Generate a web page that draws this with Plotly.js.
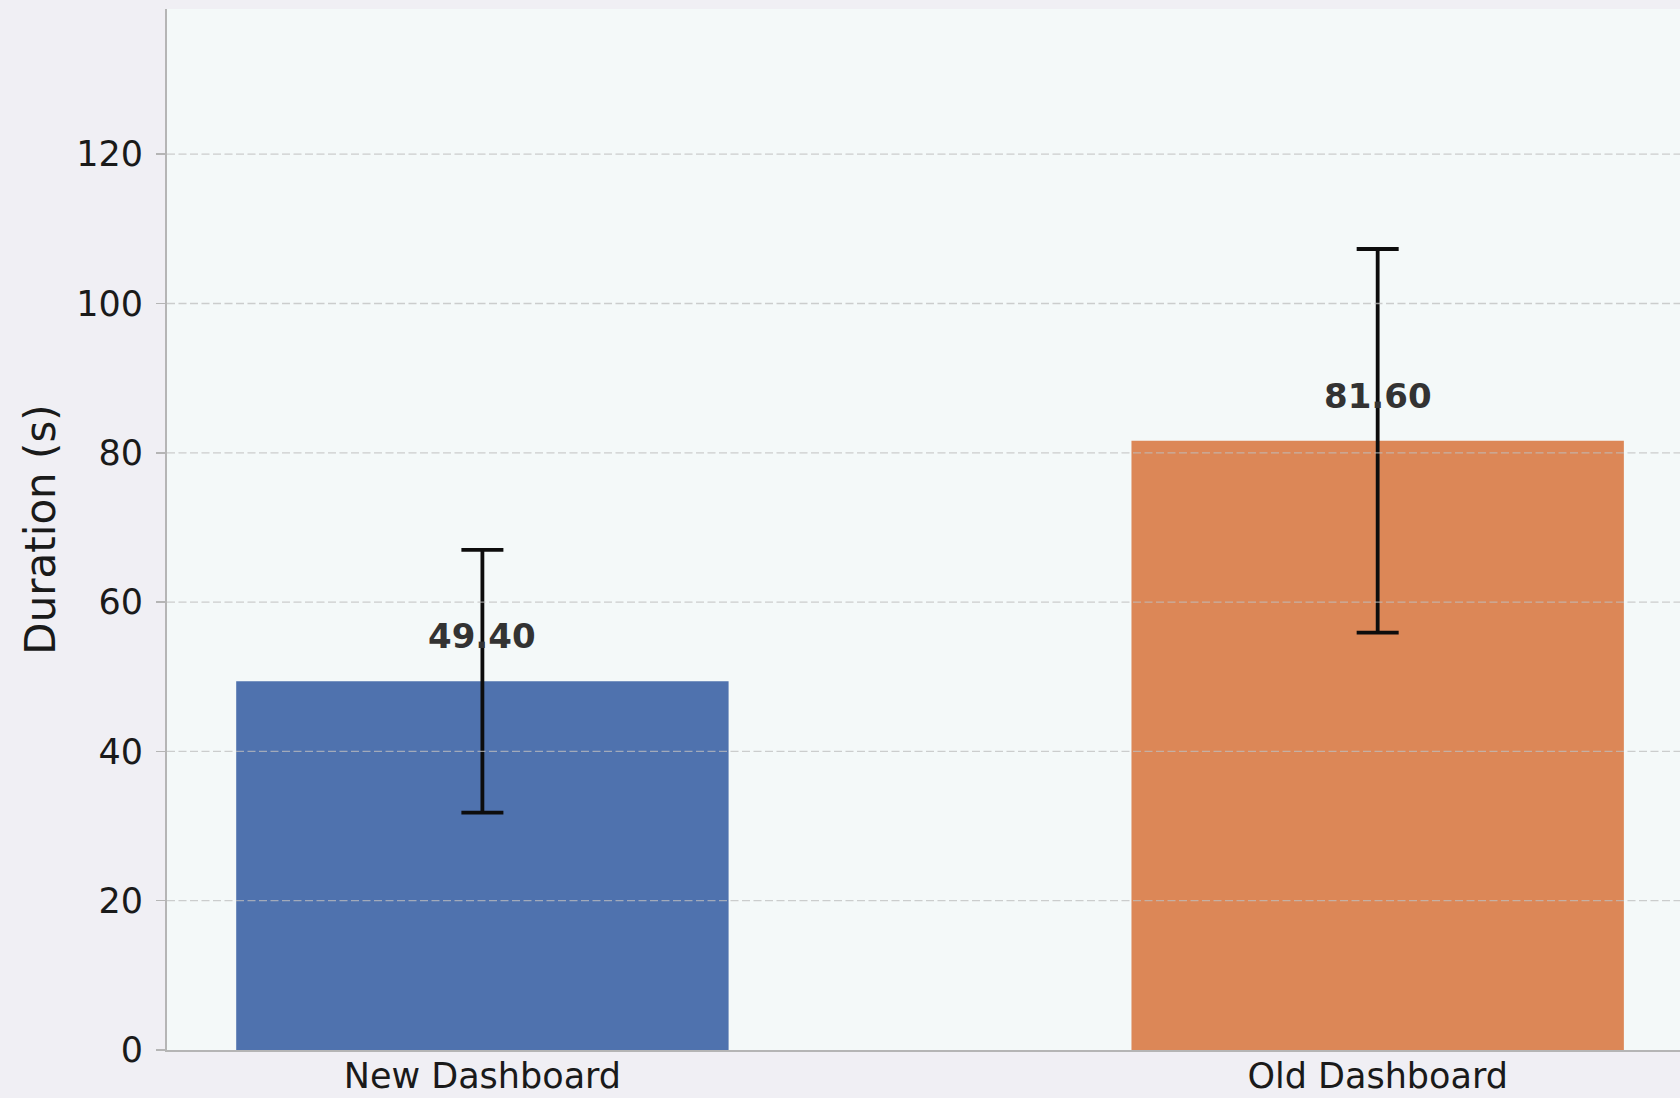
<!DOCTYPE html>
<html>
<head>
<meta charset="utf-8">
<script src="https://cdn.plot.ly/plotly-3.0.1.min.js"></script>
<style>html,body{margin:0;padding:0;background:#f0eff4;}#chart{width:1680px;height:1098px;}</style>
</head>
<body>
<div id="chart"></div>
<script>
// Data
const categories = ["New Dashboard", "Old Dashboard"];
const meanDuration = [49.4, 81.6];
const errDuration = [17.6, 25.7];
const labels = ["49.40", "81.60"];
const barColors = ["#4F72AE", "#DC8757"];
const yTicks = [0, 20, 40, 60, 80, 100, 120];

const xIdx = categories.map((c, i) => i);

const trace = {
  type: "bar",
  x: xIdx,
  y: meanDuration,
  width: 0.55,
  marker: {color: barColors, line: {width: 0}},
  error_y: {type: "data", array: errDuration, visible: true, color: "#0d0d0d", thickness: 3.8, width: 21},
  hoverinfo: "skip"
};

const gridShapes = yTicks.filter(v => v > 0).map(v => ({
  type: "line", xref: "paper", yref: "y", x0: 0, x1: 1, y0: v, y1: v,
  layer: "above",
  line: {color: "rgba(190,190,190,0.75)", width: 1.3, dash: "8px,3.5px"}
}));

const annos = categories.map((c, i) => ({
  x: i, y: meanDuration[i], xref: "x", yref: "y",
  text: labels[i], showarrow: false, yanchor: "bottom", xanchor: "center",
  yshift: 23,
  font: {family: "DejaVu Sans", size: 34, color: "#333333", weight: "bold"}
}));

const layout = {
  width: 1680, height: 1098,
  paper_bgcolor: "#f0eff4",
  plot_bgcolor: "#f4f9f9",
  margin: {l: 167, r: 0, t: 9, b: 48},
  showlegend: false,
  font: {family: "DejaVu Sans", color: "#1a1a1a"},
  xaxis: {
    range: [-0.3523, 1.3377],
    tickvals: xIdx, ticktext: categories,
    ticks: "", showgrid: false, zeroline: false,
    showline: true, linecolor: "#b5b5b5", linewidth: 2,
    tickfont: {size: 35, color: "#1a1a1a"},
    ticklabelstandoff: -6,
    fixedrange: true
  },
  yaxis: {
    range: [0, 139.45],
    tickvals: yTicks,
    ticks: "outside", ticklen: 9, tickwidth: 1.5, tickcolor: "#b5b5b5",
    showgrid: false, zeroline: false,
    showline: true, linecolor: "#b5b5b5", linewidth: 2,
    tickfont: {size: 35, color: "#1a1a1a"},
    ticklabelstandoff: 6,
    title: {text: "Duration (s)", font: {size: 42, color: "#1a1a1a"}, standoff: 7},
    automargin: false
  },
  shapes: gridShapes,
  annotations: annos,
  bargap: 0.45
};

Plotly.newPlot("chart", [trace], layout, {staticPlot: true, displayModeBar: false});
</script>
</body>
</html>
